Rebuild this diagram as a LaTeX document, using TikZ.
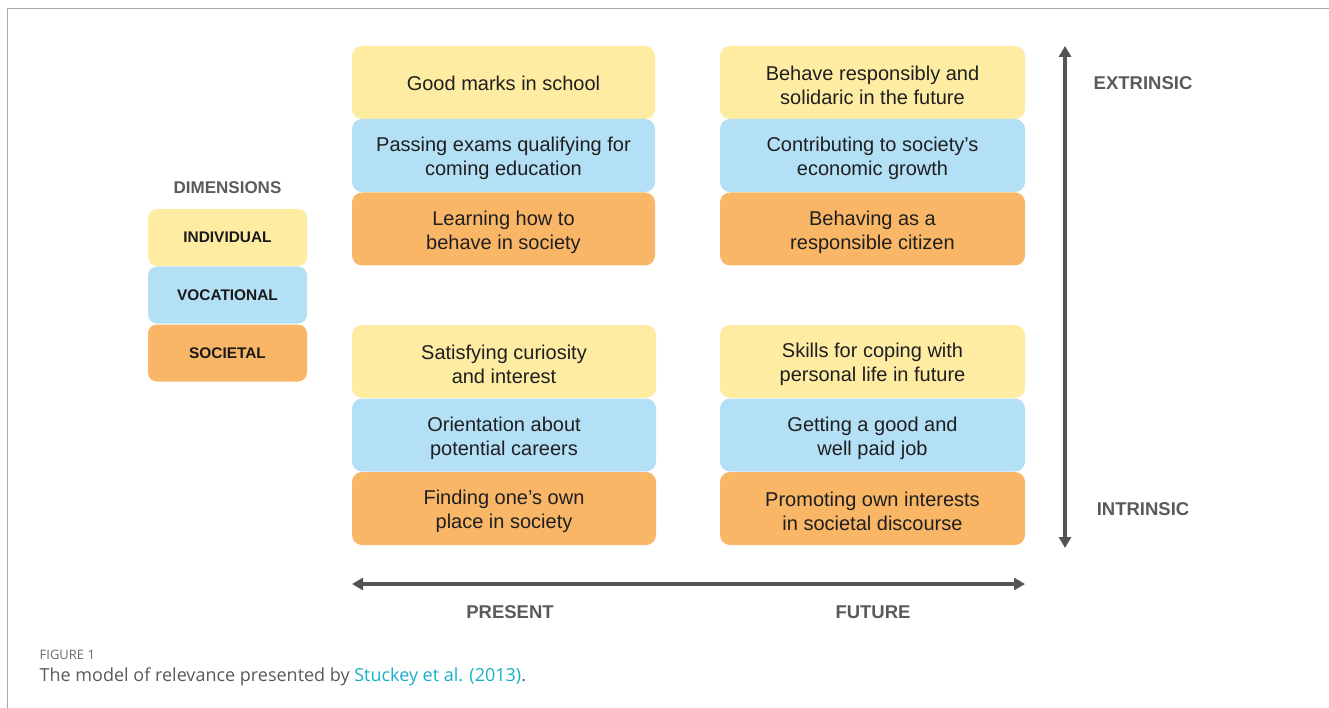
\documentclass[tikz,border=0pt]{standalone}
\usepackage{fontspec}
\setmainfont{Liberation Sans}
\newfontfamily\capfont{Open Sans}
\usetikzlibrary{arrows.meta}
\definecolor{cyel}{HTML}{FEECA3}
\definecolor{cblu}{HTML}{B4E0F6}
\definecolor{cora}{HTML}{F9B667}
\definecolor{carr}{HTML}{545454}
\definecolor{clab}{HTML}{5A5A5A}
\definecolor{clink}{HTML}{1AAFC8}
\definecolor{cframe}{HTML}{A8A8A8}
\begin{document}
\begin{tikzpicture}[x=1pt,y=-1pt,
  cell/.style={rounded corners=10pt, minimum height=73pt, inner sep=0pt},
  celltext/.style={inner sep=0pt, align=center, text=black!88, font=\fontsize{20}{24}\selectfont, yshift=-3pt},
  txt/.style={label={[celltext]center:{#1}}},
  txtone/.style={label={[celltext, yshift=2pt]center:{#1}}},
  leg/.style={rounded corners=9pt, minimum width=159pt, minimum height=57pt, inner sep=0pt,
     font=\fontsize{15.4}{17}\selectfont\bfseries, text=black!90},
  axlab/.style={font=\fontsize{18.5}{21}\selectfont\bfseries, text=clab},
  axarrow/.style={draw=carr, line width=3.5pt, {Triangle[length=11pt,width=12pt]}-{Triangle[length=11pt,width=12pt]}}
]
\useasboundingbox (0,0) rectangle (1329,708);
\draw[cframe, line width=1.5pt] (7.5,708) -- (7.5,8.5) -- (1329,8.5);

% top-left
\node[cell, fill=cyel, minimum width=303pt, txtone={Good marks in school}] (a1) at (503.5,82.5) {};
\node[cell, fill=cblu, minimum width=303pt, txt={Passing exams qualifying for\\coming education}] (a2) at (503.5,155.5) {};
\node[cell, fill=cora, minimum width=303pt, txt={Learning how to\\behave in society}] (a3) at (503.5,229) {};
% top-right
\node[cell, fill=cyel, minimum width=305pt, txt={Behave responsibly and\\solidaric in the future}] (b1) at (872.5,82.5) {};
\node[cell, fill=cblu, minimum width=305pt, txt={Contributing to society’s\\economic growth}] (b2) at (872.5,155.5) {};
\node[cell, fill=cora, minimum width=305pt, txt={Behaving as a\\responsible citizen}] (b3) at (872.5,229) {};
% bottom-left
\node[cell, fill=cyel, minimum width=304pt, txt={Satisfying curiosity\\and interest}] (c1) at (504,361.5) {};
\node[cell, fill=cblu, minimum width=304pt, txt={Orientation about\\potential careers}] (c2) at (504,435) {};
\node[cell, fill=cora, minimum width=304pt, txt={Finding one’s own\\place in society}] (c3) at (504,508.5) {};
% bottom-right
\node[cell, fill=cyel, minimum width=305pt, txt={Skills for coping with\\personal life in future}] (d1) at (872.5,361.5) {};
\node[cell, fill=cblu, minimum width=305pt, txt={Getting a good and\\well paid job}] (d2) at (872.5,435) {};
\node[cell, fill=cora, minimum width=305pt, txt={Promoting own interests\\in societal discourse}] (d3) at (872.5,508.5) {};

% legend
\node[axlab, font=\fontsize{17}{19}\selectfont\bfseries] (dim) at (227.5,188) {DIMENSIONS};
\node[leg, fill=cyel] (l1) at (227.5,237.5) {INDIVIDUAL};
\node[leg, fill=cblu] (l2) at (227.5,295) {VOCATIONAL};
\node[leg, fill=cora] (l3) at (227.5,353) {SOCIETAL};

% axes
\coordinate (hl) at (352,584);
\coordinate (hr) at (1025,584);
\coordinate (vt) at (1065,46);
\coordinate (vb) at (1065,548);
\draw[axarrow] (hl) -- (hr);
\draw[axarrow] (vb) -- (vt);
\node[axlab] (pres) at (510,612) {PRESENT};
\node[axlab] (fut) at (873,612) {FUTURE};
\node[axlab] (ext) at (1143,83) {EXTRINSIC};
\node[axlab] (int) at (1143,509) {INTRINSIC};

% caption
\node[anchor=west, inner sep=0pt, text=black!58, font=\capfont\fontsize{13}{15}\selectfont] (fig) at (39.5,655) {FIGURE 1};
\node[anchor=west, inner sep=0pt, text=black!65, font=\capfont\fontsize{18}{21}\selectfont] (cap) at (39.5,677) {The model of relevance presented by \textcolor{clink}{Stuckey et al. (2013)}.};
\end{tikzpicture}
\end{document}
